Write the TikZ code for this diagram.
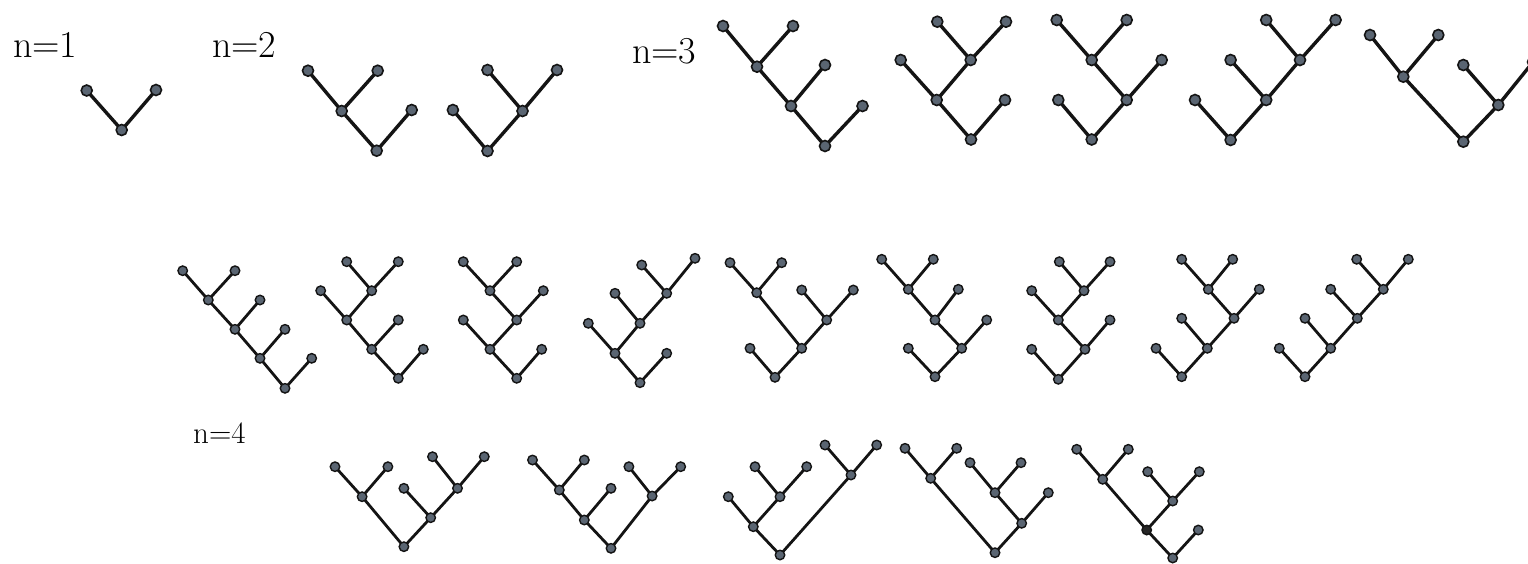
\documentclass[tikz,border=0pt]{standalone}
\usetikzlibrary{backgrounds}
\definecolor{nodefill}{HTML}{5A6572}
\definecolor{edgecol}{HTML}{141414}
\begin{document}
\begin{tikzpicture}[x=1pt,y=-1pt,
  nd/.style={circle,draw=edgecol,fill=nodefill,line width=1.6pt,inner sep=0pt,minimum size=11pt},
  nds/.style={circle,draw=edgecol,fill=nodefill,line width=1.4pt,inner sep=0pt,minimum size=9.5pt},
  ndk/.style={nds,fill=black!85},
  ed/.style={draw=edgecol,line width=3.4pt},
  eds/.style={draw=edgecol,line width=2.8pt},
  lbl/.style={anchor=base west,inner sep=0pt,font=\fontsize{38}{40}\selectfont},
  lbls/.style={anchor=base west,inner sep=0pt,font=\fontsize{31}{32}\selectfont}]
\useasboundingbox (0,0) rectangle (1528,563);
% labels
\node[lbl] (l1) at (13,57) {n=1};
\node[lbl] (l2) at (212,57) {n=2};
\node[lbl] (l3) at (632,63) {n=3};
\node[lbls] (l4) at (193,443) {n=4};
% ---------- n=1
\node[nd] (A0) at (121.7,130) {};
\node[nd] (A1) at (86.7,90.5) {};
\node[nd] (A2) at (156,90) {};
% ---------- n=2
\node[nd] (B0) at (376.7,150.7) {};
\node[nd] (B1) at (341.7,111) {};
\node[nd] (B2) at (411.7,110) {};
\node[nd] (B3) at (308,70.7) {};
\node[nd] (B4) at (377.7,70.7) {};
\node[nd] (C0) at (487.5,151) {};
\node[nd] (C1) at (452.9,110) {};
\node[nd] (C2) at (522.5,111) {};
\node[nd] (C3) at (487.5,70) {};
\node[nd] (C4) at (557,70) {};
% ---------- n=3
\node[nd] (D0) at (825,146) {};
\node[nd] (D1) at (791,106) {};
\node[nd] (D2) at (862.5,106) {};
\node[nd] (D3) at (757,66.7) {};
\node[nd] (D4) at (825,65) {};
\node[nd] (D5) at (723,26) {};
\node[nd] (D6) at (793,26) {};
\node[nd] (E0) at (971,139.5) {};
\node[nd] (E1) at (936.7,100) {};
\node[nd] (E2) at (1005,100) {};
\node[nd] (E3) at (900.7,60) {};
\node[nd] (E4) at (970.7,60) {};
\node[nd] (E5) at (937.3,21.7) {};
\node[nd] (E6) at (1006,21.7) {};
\node[nd] (F0) at (1091.7,139.5) {};
\node[nd] (F1) at (1058.3,100) {};
\node[nd] (F2) at (1126.7,100) {};
\node[nd] (F3) at (1091.7,60) {};
\node[nd] (F4) at (1161.7,60) {};
\node[nd] (F5) at (1056.7,20) {};
\node[nd] (F6) at (1126.7,20) {};
\node[nd] (G0) at (1230.6,140) {};
\node[nd] (G1) at (1195,100) {};
\node[nd] (G2) at (1266.2,100) {};
\node[nd] (G3) at (1230.6,60) {};
\node[nd] (G4) at (1300,60) {};
\node[nd] (G5) at (1266.2,20) {};
\node[nd] (G6) at (1335.6,20) {};
\node[nd] (H0) at (1463.3,141.7) {};
\node[nd] (H1) at (1403.3,76.7) {};
\node[nd] (H2) at (1498.3,105) {};
\node[nd] (H3) at (1370,35) {};
\node[nd] (H4) at (1438.3,35) {};
\node[nd] (H5) at (1463.3,65) {};
\node[nd] (H6) at (1533,62) {};
% ---------- n=4, middle row
\node[nds] (I0) at (285,388.3) {};
\node[nds] (I1) at (260,358.3) {};
\node[nds] (I2) at (311.7,358.3) {};
\node[nds] (I3) at (235,329.3) {};
\node[nds] (I4) at (285,329.3) {};
\node[nds] (I5) at (208.3,300) {};
\node[nds] (I6) at (260,300) {};
\node[nds] (I7) at (182.7,270.7) {};
\node[nds] (I8) at (235,270.7) {};
\node[nds] (J0) at (398.3,378.3) {};
\node[nds] (J1) at (371.7,349.3) {};
\node[nds] (J2) at (423.3,349.3) {};
\node[nds] (J3) at (346.7,320) {};
\node[nds] (J4) at (398.3,320) {};
\node[nds] (J5) at (320.7,290.7) {};
\node[nds] (J6) at (371.7,290.7) {};
\node[nds] (J7) at (346.7,261.7) {};
\node[nds] (J8) at (398.3,261.7) {};
\node[nds] (K0) at (516.7,378.3) {};
\node[nds] (K1) at (490,349.3) {};
\node[nds] (K2) at (541.7,349.3) {};
\node[nds] (K3) at (463.3,320) {};
\node[nds] (K4) at (516.7,320) {};
\node[nds] (K5) at (490,290.7) {};
\node[nds] (K6) at (543.3,290.7) {};
\node[nds] (K7) at (463.3,261.7) {};
\node[nds] (K8) at (516.7,261.7) {};
\node[nds] (L0) at (640,382.7) {};
\node[nds] (L1) at (615,353.3) {};
\node[nds] (L2) at (666.7,353.3) {};
\node[nds] (L3) at (588.3,323.3) {};
\node[nds] (L4) at (640,323.3) {};
\node[nds] (L5) at (615,293.3) {};
\node[nds] (L6) at (666.7,293.3) {};
\node[nds] (L7) at (641.7,265) {};
\node[nds] (L8) at (695,258.3) {};
\node[nds] (M0) at (775,377.3) {};
\node[nds] (M1) at (750,348.3) {};
\node[nds] (M2) at (801.7,348.3) {};
\node[nds] (M3) at (756.7,292.7) {};
\node[nds] (M4) at (826.7,320) {};
\node[nds] (M5) at (730,262.7) {};
\node[nds] (M6) at (781.7,262.7) {};
\node[nds] (M7) at (801.7,290) {};
\node[nds] (M8) at (853.3,290) {};
\node[nds] (N0) at (935,376.7) {};
\node[nds] (N1) at (908.3,348.3) {};
\node[nds] (N2) at (961.7,348.3) {};
\node[nds] (N3) at (935,320) {};
\node[nds] (N4) at (986.7,320) {};
\node[nds] (N5) at (908.3,289.3) {};
\node[nds] (N6) at (958.3,289.3) {};
\node[nds] (N7) at (881.7,259.3) {};
\node[nds] (N8) at (933.3,259.3) {};
\node[nds] (O0) at (1058.3,379.3) {};
\node[nds] (O1) at (1031.7,349.3) {};
\node[nds] (O2) at (1085,349.3) {};
\node[nds] (O3) at (1058.3,320) {};
\node[nds] (O4) at (1110,320) {};
\node[nds] (O5) at (1031.7,290.7) {};
\node[nds] (O6) at (1084,290.7) {};
\node[nds] (O7) at (1059.3,261.7) {};
\node[nds] (O8) at (1110,261.7) {};
\node[nds] (P0) at (1181.7,376.7) {};
\node[nds] (P1) at (1156,348.3) {};
\node[nds] (P2) at (1207.3,348.3) {};
\node[nds] (P3) at (1181.7,318.3) {};
\node[nds] (P4) at (1234,318.3) {};
\node[nds] (P5) at (1208.3,289.3) {};
\node[nds] (P6) at (1259.3,289.3) {};
\node[nds] (P7) at (1181.7,259.3) {};
\node[nds] (P8) at (1232.7,259.3) {};
\node[nds] (Q0) at (1305,376.7) {};
\node[nds] (Q1) at (1279.3,348.3) {};
\node[nds] (Q2) at (1330.7,348.3) {};
\node[nds] (Q3) at (1305,318.3) {};
\node[nds] (Q4) at (1357.3,318.3) {};
\node[nds] (Q5) at (1330.7,289.3) {};
\node[nds] (Q6) at (1383.3,289.3) {};
\node[nds] (Q7) at (1356.7,259.3) {};
\node[nds] (Q8) at (1408.3,259.3) {};
% ---------- n=4, bottom row
\node[nds] (R0) at (403.9,546.7) {};
\node[nds] (R1) at (362.1,496.7) {};
\node[nds] (R2) at (430.7,517.7) {};
\node[nds] (R3) at (335,466.7) {};
\node[nds] (R4) at (387.9,466.7) {};
\node[nds] (R5) at (403.9,488.3) {};
\node[nds] (R6) at (457.5,488.3) {};
\node[nds] (R7) at (432.5,456.7) {};
\node[nds] (R8) at (484.3,456.7) {};
\node[nds] (S0) at (611,548.3) {};
\node[nds] (S1) at (584.3,520) {};
\node[nds] (S2) at (652.1,496) {};
\node[nds] (S3) at (559.3,490) {};
\node[nds] (S4) at (611,488.3) {};
\node[nds] (S5) at (532.5,460) {};
\node[nds] (S6) at (584.3,460) {};
\node[nds] (S7) at (628.9,466.7) {};
\node[nds] (S8) at (680.7,466.7) {};
\node[nds] (U0) at (780,555) {};
\node[nds] (U1) at (753.3,526.7) {};
\node[nds] (U2) at (851,475) {};
\node[nds] (U3) at (728.3,496.7) {};
\node[nds] (U4) at (780,496.7) {};
\node[nds] (U5) at (755,466.7) {};
\node[nds] (U6) at (806.7,466.7) {};
\node[nds] (U7) at (825,445) {};
\node[nds] (U8) at (876.7,445) {};
\node[nds] (V0) at (995,552.7) {};
\node[nds] (V1) at (930.7,478.3) {};
\node[nds] (V2) at (1021.7,523.3) {};
\node[nds] (V3) at (905,448.3) {};
\node[nds] (V4) at (956.7,448.3) {};
\node[nds] (V5) at (995,492.7) {};
\node[nds] (V6) at (1048.3,492.7) {};
\node[nds] (V7) at (970,462.7) {};
\node[nds] (V8) at (1021,462.7) {};
\node[nds] (W0) at (1172.7,558) {};
\node[ndk] (W1) at (1146.7,530) {};
\node[nds] (W2) at (1198.3,530) {};
\node[nds] (W3) at (1102.7,479.3) {};
\node[nds] (W4) at (1172.7,501) {};
\node[nds] (W5) at (1076.7,449.3) {};
\node[nds] (W6) at (1128.3,449.3) {};
\node[nds] (W7) at (1147.7,471.7) {};
\node[nds] (W8) at (1199.3,471.7) {};
% ---------- edges
\begin{scope}[on background layer]
\fill[white] (0,0) rectangle (1528,563);
\draw[ed] (A0.center)--(A1.center) (A0.center)--(A2.center);
\draw[ed] (B0.center)--(B1.center) (B0.center)--(B2.center) (B1.center)--(B3.center) (B1.center)--(B4.center);
\draw[ed] (C0.center)--(C1.center) (C0.center)--(C2.center) (C2.center)--(C3.center) (C2.center)--(C4.center);
\draw[ed] (D0.center)--(D1.center) (D0.center)--(D2.center) (D1.center)--(D3.center) (D1.center)--(D4.center) (D3.center)--(D5.center) (D3.center)--(D6.center);
\draw[ed] (E0.center)--(E1.center) (E0.center)--(E2.center) (E1.center)--(E3.center) (E1.center)--(E4.center) (E4.center)--(E5.center) (E4.center)--(E6.center);
\draw[ed] (F0.center)--(F1.center) (F0.center)--(F2.center) (F2.center)--(F3.center) (F2.center)--(F4.center) (F3.center)--(F5.center) (F3.center)--(F6.center);
\draw[ed] (G0.center)--(G1.center) (G0.center)--(G2.center) (G2.center)--(G3.center) (G2.center)--(G4.center) (G4.center)--(G5.center) (G4.center)--(G6.center);
\draw[ed] (H0.center)--(H1.center) (H0.center)--(H2.center) (H1.center)--(H3.center) (H1.center)--(H4.center) (H2.center)--(H5.center) (H2.center)--(H6.center);
\draw[eds] (I0.center)--(I1.center) (I0.center)--(I2.center) (I1.center)--(I3.center) (I1.center)--(I4.center) (I3.center)--(I5.center) (I3.center)--(I6.center) (I5.center)--(I7.center) (I5.center)--(I8.center);
\draw[eds] (J0.center)--(J1.center) (J0.center)--(J2.center) (J1.center)--(J3.center) (J1.center)--(J4.center) (J3.center)--(J5.center) (J3.center)--(J6.center) (J6.center)--(J7.center) (J6.center)--(J8.center);
\draw[eds] (K0.center)--(K1.center) (K0.center)--(K2.center) (K1.center)--(K3.center) (K1.center)--(K4.center) (K4.center)--(K5.center) (K4.center)--(K6.center) (K5.center)--(K7.center) (K5.center)--(K8.center);
\draw[eds] (L0.center)--(L1.center) (L0.center)--(L2.center) (L1.center)--(L3.center) (L1.center)--(L4.center) (L4.center)--(L5.center) (L4.center)--(L6.center) (L6.center)--(L7.center) (L6.center)--(L8.center);
\draw[eds] (M0.center)--(M1.center) (M0.center)--(M2.center) (M2.center)--(M3.center) (M2.center)--(M4.center) (M3.center)--(M5.center) (M3.center)--(M6.center) (M4.center)--(M7.center) (M4.center)--(M8.center);
\draw[eds] (N0.center)--(N1.center) (N0.center)--(N2.center) (N2.center)--(N3.center) (N2.center)--(N4.center) (N3.center)--(N5.center) (N3.center)--(N6.center) (N5.center)--(N7.center) (N5.center)--(N8.center);
\draw[eds] (O0.center)--(O1.center) (O0.center)--(O2.center) (O2.center)--(O3.center) (O2.center)--(O4.center) (O3.center)--(O5.center) (O3.center)--(O6.center) (O6.center)--(O7.center) (O6.center)--(O8.center);
\draw[eds] (P0.center)--(P1.center) (P0.center)--(P2.center) (P2.center)--(P3.center) (P2.center)--(P4.center) (P4.center)--(P5.center) (P4.center)--(P6.center) (P5.center)--(P7.center) (P5.center)--(P8.center);
\draw[eds] (Q0.center)--(Q1.center) (Q0.center)--(Q2.center) (Q2.center)--(Q3.center) (Q2.center)--(Q4.center) (Q4.center)--(Q5.center) (Q4.center)--(Q6.center) (Q6.center)--(Q7.center) (Q6.center)--(Q8.center);
\draw[eds] (R0.center)--(R1.center) (R0.center)--(R2.center) (R1.center)--(R3.center) (R1.center)--(R4.center) (R2.center)--(R5.center) (R2.center)--(R6.center) (R6.center)--(R7.center) (R6.center)--(R8.center);
\draw[eds] (S0.center)--(S1.center) (S0.center)--(S2.center) (S1.center)--(S3.center) (S1.center)--(S4.center) (S3.center)--(S5.center) (S3.center)--(S6.center) (S2.center)--(S7.center) (S2.center)--(S8.center);
\draw[eds] (U0.center)--(U1.center) (U0.center)--(U2.center) (U1.center)--(U3.center) (U1.center)--(U4.center) (U4.center)--(U5.center) (U4.center)--(U6.center) (U2.center)--(U7.center) (U2.center)--(U8.center);
\draw[eds] (V0.center)--(V1.center) (V0.center)--(V2.center) (V1.center)--(V3.center) (V1.center)--(V4.center) (V2.center)--(V5.center) (V2.center)--(V6.center) (V5.center)--(V7.center) (V5.center)--(V8.center);
\draw[eds] (W0.center)--(W1.center) (W0.center)--(W2.center) (W1.center)--(W3.center) (W1.center)--(W4.center) (W3.center)--(W5.center) (W3.center)--(W6.center) (W4.center)--(W7.center) (W4.center)--(W8.center);
\end{scope}
\end{tikzpicture}
\end{document}
